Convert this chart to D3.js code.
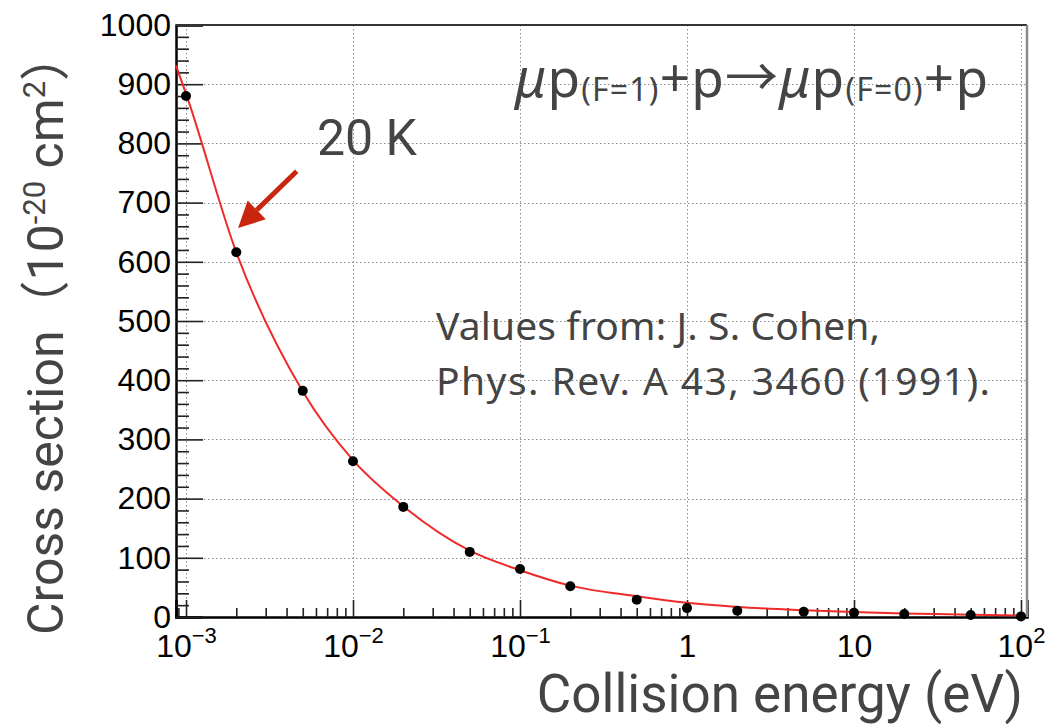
<!DOCTYPE html>
<html>
<head>
<meta charset="utf-8">
<script src="https://cdn.jsdelivr.net/npm/d3@7"></script>
<style>
  body { margin: 0; background: #fff; }
  .tick text { font-family: "Liberation Sans", Arial, sans-serif; fill: #000; }
  .lbl { font-family: Roboto, "Noto Sans CJK JP", sans-serif; fill: #444; }
  .note { font-family: "Noto Sans", "Noto Sans CJK JP", sans-serif; fill: #444; }
</style>
</head>
<body>
<script>
// measured points (Cohen 1991), energy in eV, cross section in 1e-20 cm2
var energy = [0.001, 0.002, 0.005, 0.01, 0.02, 0.05, 0.1, 0.2, 0.5, 1, 2, 5, 10, 20, 50, 100];
var sigma  = [880, 616, 382, 263, 186, 110, 81, 52, 29, 15, 10.5, 9, 7, 5, 3.5, 1];

// fitted curve
var fitE     = [0.00087, 0.001, 0.002, 0.005, 0.01, 0.02, 0.05, 0.1, 0.2, 0.5, 1, 2, 5, 10, 20, 50, 100];
var fitSigma = [932, 884, 616, 381, 265, 187, 112, 79, 53, 35, 24, 17, 11.5, 8.5, 6, 4, 2.5];

var xMajor = [1e-3, 1e-2, 1e-1, 1, 10, 100];
var xLabels = [["10", "\u22123"], ["10", "\u22122"], ["10", "\u22121"], ["1", ""], ["10", ""], ["10", "2"]];
var yMajor = [0, 100, 200, 300, 400, 500, 600, 700, 800, 900, 1000];

var W = 1045, H = 724;
var frame = {left: 176, right: 1027, top: 25, bottom: 617};

var svg = d3.select("body")
  .append("svg")
    .attr("width", W)
    .attr("height", H);

var x = d3.scaleLog()
  .domain([Math.pow(10, -3.06), Math.pow(10, 2.036)])
  .range([frame.left, frame.right]);
var y = d3.scaleLinear()
  .domain([0, 1000])
  .range([frame.bottom, frame.top]);

// minor ticks
var xMinor = [];
d3.range(-4, 2).forEach(function(e) {
  d3.range(2, 10).forEach(function(m) {
    var v = m * Math.pow(10, e);
    if (v > x.domain()[0] && v < x.domain()[1]) xMinor.push(v);
  });
});
var yMinor = d3.range(0, 1001, 20).filter(function(v) { return v % 100 !== 0; });

// grid
var grid = svg.append("g").attr("class", "grid")
  .attr("stroke", "#8c8c8c")
  .attr("stroke-width", 1)
  .attr("stroke-dasharray", "1.5,2.5");
grid.selectAll("line.gx")
  .data(xMajor)
  .enter().append("line")
    .attr("x1", function(d) { return Math.round(x(d)) + 0.5; })
    .attr("x2", function(d) { return Math.round(x(d)) + 0.5; })
    .attr("y1", frame.top)
    .attr("y2", frame.bottom);
grid.selectAll("line.gy")
  .data(yMajor.slice(1, -1))
  .enter().append("line")
    .attr("y1", function(d) { return Math.round(y(d)) + 0.5; })
    .attr("y2", function(d) { return Math.round(y(d)) + 0.5; })
    .attr("x1", frame.left)
    .attr("x2", frame.right);

// axes
var xAxis = svg.append("g")
  .attr("transform", "translate(0," + frame.bottom + ")")
  .call(d3.axisBottom(x).tickValues(xMajor).tickSize(-17).tickPadding(17).tickFormat(""));
svg.append("g")
  .attr("transform", "translate(0," + frame.bottom + ")")
  .call(d3.axisBottom(x).tickValues(xMinor).tickSize(-9).tickFormat(""))
  .call(function(g) { g.select(".domain").remove(); });

xAxis.selectAll(".tick text")
  .style("font-size", "32px")
  .attr("dy", "0.71em")
  .each(function(d, i) {
    var t = d3.select(this);
    t.append("tspan").text(xLabels[i][0]);
    if (xLabels[i][1]) {
      t.append("tspan").text(xLabels[i][1])
        .style("font-size", "22px")
        .attr("dy", "-0.62em");
    }
  });

var yAxis = svg.append("g")
  .attr("transform", "translate(" + frame.left + ",0)")
  .call(d3.axisLeft(y).tickValues(yMajor).tickSize(-27).tickPadding(5).tickFormat(d3.format("d")));
yAxis.selectAll(".tick text").style("font-size", "32px");
svg.append("g")
  .attr("transform", "translate(" + frame.left + ",0)")
  .call(d3.axisLeft(y).tickValues(yMinor).tickSize(-13).tickFormat(""))
  .call(function(g) { g.select(".domain").remove(); });

svg.selectAll(".domain").attr("stroke-width", 2.5);
svg.selectAll(".tick line").attr("stroke-width", 1.6).attr("stroke", "#222");

// top and right frame
svg.append("line")
  .attr("x1", frame.left).attr("x2", frame.right)
  .attr("y1", frame.top).attr("y2", frame.top)
  .attr("stroke", "#333").attr("stroke-width", 2);
svg.append("line")
  .attr("x1", frame.right).attr("x2", frame.right)
  .attr("y1", frame.top).attr("y2", frame.bottom)
  .attr("stroke", "#8a8a8a").attr("stroke-width", 2.5);

// fit curve
var line = d3.line()
  .x(function(d) { return x(d[0]); })
  .y(function(d) { return y(d[1]); })
  .curve(d3.curveMonotoneX);
svg.append("path")
  .datum(d3.zip(fitE, fitSigma))
  .attr("d", line)
  .attr("fill", "none")
  .attr("stroke", "#f02a2a")
  .attr("stroke-width", 2);

// data points
svg.append("g").selectAll("circle")
  .data(d3.zip(energy, sigma))
  .enter().append("circle")
    .attr("cx", function(d) { return x(d[0]); })
    .attr("cy", function(d) { return y(d[1]); })
    .attr("r", 5)
    .attr("fill", "#000");

// arrow to the 20 K point
var tail = [0.0046, 753], tip = [0.00205, 657];
var x0 = x(tail[0]), y0 = y(tail[1]), x1 = x(tip[0]), y1 = y(tip[1]);
var ang = Math.atan2(y1 - y0, x1 - x0);
var headLen = 26, headW = 13;
var bx = x1 - headLen * Math.cos(ang), by = y1 - headLen * Math.sin(ang);
svg.append("line")
  .attr("x1", x0).attr("y1", y0).attr("x2", bx).attr("y2", by)
  .attr("stroke", "#c8260f").attr("stroke-width", 5);
svg.append("path")
  .attr("d", "M" + x1 + "," + y1 +
    "L" + (bx + headW * Math.sin(ang)) + "," + (by - headW * Math.cos(ang)) +
    "L" + (bx - headW * Math.sin(ang)) + "," + (by + headW * Math.cos(ang)) + "Z")
  .attr("fill", "#c8260f");

svg.append("text").attr("class", "lbl")
  .attr("x", 317).attr("y", 155)
  .style("font-size", "50px")
  .text("20 K");

// reaction
var rx = svg.append("text").attr("class", "note")
  .attr("x", 515).attr("y", 97)
  .attr("textLength", 473)
  .attr("lengthAdjust", "spacing")
  .style("font-size", "53px");
rx.append("tspan").text("\u03bc").style("font-style", "italic");
rx.append("tspan").text("p");
rx.append("tspan").text("(F=1)").style("font-size", "32px").attr("dy", 4);
rx.append("tspan").text("+p\u2192").attr("dy", -4);
rx.append("tspan").text("\u03bc").style("font-style", "italic");
rx.append("tspan").text("p");
rx.append("tspan").text("(F=0)").style("font-size", "32px").attr("dy", 4);
rx.append("tspan").text("+p").attr("dy", -4);

// reference
svg.append("text").attr("class", "note")
  .attr("x", 436).attr("y", 340)
  .attr("textLength", 444)
  .attr("lengthAdjust", "spacing")
  .style("font-size", "39px")
  .text("Values from: J. S. Cohen,");
svg.append("text").attr("class", "note")
  .attr("x", 436).attr("y", 395)
  .attr("textLength", 554)
  .attr("lengthAdjust", "spacing")
  .style("font-size", "39px")
  .text("Phys. Rev. A 43, 3460 (1991).");

// axis titles
svg.append("text").attr("class", "lbl")
  .attr("x", 1023).attr("y", 712)
  .attr("text-anchor", "end")
  .style("font-size", "53px")
  .text("Collision energy (eV)");

var yt = svg.append("text").attr("class", "lbl")
  .attr("transform", "translate(63,333) rotate(-90)")
  .attr("text-anchor", "middle")
  .style("font-size", "50px");
yt.append("tspan").text("Cross section\uff0810");
yt.append("tspan").text("-20").style("font-size", "31px").attr("dy", -18);
yt.append("tspan").text(" cm").attr("dy", 18);
yt.append("tspan").text("2").style("font-size", "31px").attr("dy", -18);
yt.append("tspan").text("\uff09").attr("dy", 18);
</script>
</body>
</html>
